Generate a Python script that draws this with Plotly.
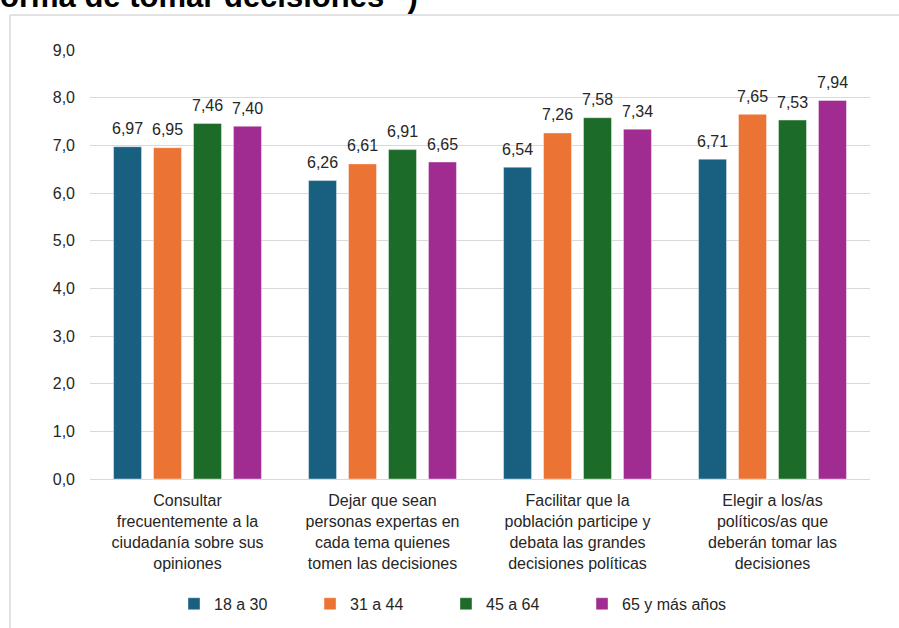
import plotly.graph_objects as go

categories = [
    "Consultar<br>frecuentemente a la<br>ciudadanía sobre sus<br>opiniones",
    "Dejar que sean<br>personas expertas en<br>cada tema quienes<br>tomen las decisiones",
    "Facilitar que la<br>población participe y<br>debata las grandes<br>decisiones políticas",
    "Elegir a los/as<br>políticos/as que<br>deberán tomar las<br>decisiones",
]
series_names = ["18 a 30", "31 a 44", "45 a 64", "65 y más años"]
v_18_30 = [6.97, 6.26, 6.54, 6.71]
v_31_44 = [6.95, 6.61, 7.26, 7.65]
v_45_64 = [7.46, 6.91, 7.58, 7.53]
v_65_mas = [7.40, 6.65, 7.34, 7.94]
colors = ["#185F80", "#EB7334", "#1C6B28", "#A02B91"]
y_ticks = [0, 1, 2, 3, 4, 5, 6, 7, 8, 9]
title_text = 'orma de tomar decisiones" )'

FONT = "Liberation Sans, Arial, sans-serif"
TXT = "#262626"
SLOT_PX = 40  # pixel pitch between bars within a group

all_series = [v_18_30, v_31_44, v_45_64, v_65_mas]
legend_ids = ["legend", "legend2", "legend3", "legend4"]

fig = go.Figure()
annotations = []
for k, (name, vals, col) in enumerate(zip(series_names, all_series, colors)):
    fig.add_trace(go.Bar(
        x=categories, y=vals, name=name,
        marker=dict(color=col, line=dict(color="rgba(255,255,255,0.5)", width=0.8)),
        legend=legend_ids[k],
    ))
    for cat, v in zip(categories, vals):
        annotations.append(dict(
            x=cat, y=v, xref="x", yref="y",
            text=f"{v:.2f}".replace(".", ","), showarrow=False,
            xshift=(k - 1.5) * SLOT_PX, yshift=18, yanchor="middle", xanchor="center",
            font=dict(family=FONT, size=16, color=TXT),
        ))

annotations.append(dict(
    text="<b>" + title_text + "</b>", xref="paper", yref="paper",
    x=-0.118, y=1.079, xanchor="left", yanchor="bottom", showarrow=False,
    font=dict(family=FONT, size=31, color="#000000"),
))

legend_x = [0.1077, 0.2821, 0.4564, 0.6308]
legend_layouts = {}
for k, lid in enumerate(legend_ids):
    legend_layouts[lid] = dict(
        orientation="h", x=legend_x[k], xanchor="left", y=-0.291, yanchor="middle",
        font=dict(family=FONT, size=16, color=TXT),
        bgcolor="rgba(0,0,0,0)",
    )

fig.update_layout(
    width=899, height=628,
    margin=dict(l=90, r=29, t=50, b=149, autoexpand=False),
    paper_bgcolor="white", plot_bgcolor="white",
    separators=",.",
    barmode="group", bargap=0.18, bargroupgap=0.3,
    font=dict(family=FONT, size=16, color=TXT),
    showlegend=True,
    xaxis=dict(
        showgrid=False, showline=True, linecolor="#d9d9d9", linewidth=1,
        tickfont=dict(family=FONT, size=16, color=TXT),
        ticks="", ticklabelstandoff=7, automargin=False,
    ),
    yaxis=dict(
        range=[0, 9], tickvals=y_ticks, tickformat=".1f",
        showgrid=True, gridcolor="#d9d9d9", gridwidth=1,
        zeroline=False, showline=False,
        tickfont=dict(family=FONT, size=16, color=TXT),
        ticks="", ticklabelstandoff=14, automargin=False,
    ),
    shapes=[
        dict(type="line", xref="paper", yref="paper", x0=-0.1026, x1=1.04, y0=1.0816, y1=1.0816,
             line=dict(color="#d9d9d9", width=1.5)),
        dict(type="line", xref="paper", yref="paper", x0=-0.1026, x1=-0.1026, y0=1.0816, y1=-0.36,
             line=dict(color="#d9d9d9", width=1.5)),
    ],
    annotations=annotations,
    **legend_layouts,
)

fig.write_html(
    "out.html",
    config={"displayModeBar": False},
    post_script="document.body.style.margin='0';document.body.style.overflow='hidden';",
)
